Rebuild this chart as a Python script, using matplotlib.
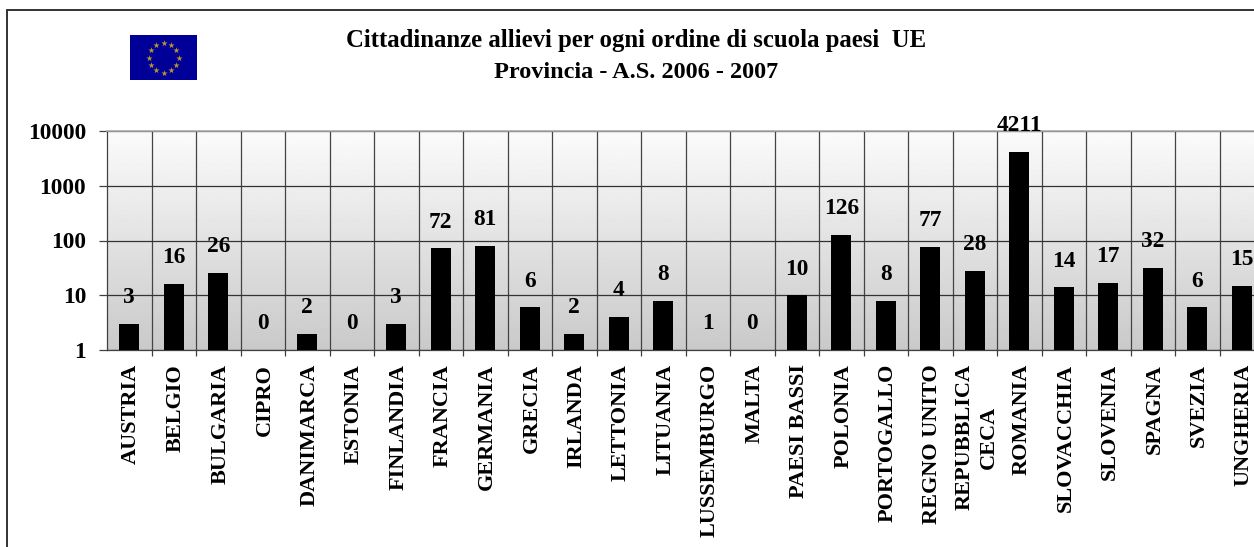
"""Cittadinanze allievi per paese UE, bar chart on a log axis."""
import matplotlib
matplotlib.use("Agg")
import matplotlib.pyplot as plt
from matplotlib.patches import Rectangle
from matplotlib.transforms import ScaledTranslation
import numpy as np

plt.rcParams.update({
    "font.family": ["Liberation Serif", "DejaVu Serif"],
    "font.weight": "bold",
})

W, H = 1254, 547

paesi = ["AUSTRIA", "BELGIO", "BULGARIA", "CIPRO", "DANIMARCA", "ESTONIA",
         "FINLANDIA", "FRANCIA", "GERMANIA", "GRECIA", "IRLANDA", "LETTONIA",
         "LITUANIA", "LUSSEMBURGO", "MALTA", "PAESI BASSI", "POLONIA",
         "PORTOGALLO", "REGNO UNITO", "REPUBBLICA\nCECA", "ROMANIA",
         "SLOVACCHIA", "SLOVENIA", "SPAGNA", "SVEZIA", "UNGHERIA"]
allievi = [3, 16, 26, 0, 2, 0, 3, 72, 81, 6, 2, 4, 8, 1, 0, 10, 126, 8, 77,
           28, 4211, 14, 17, 32, 6, 15]
y_ticks = [1, 10, 100, 1000, 10000]
y_labels = ["1", "10", "100", "1000", "10000"]


def px_box(x0, y0, x1, y1):
    """Figure fractions from pixel coords with y measured from the top."""
    return [x0 / W, 1 - y1 / H, (x1 - x0) / W, (y1 - y0) / H]


fig = plt.figure(figsize=(W / 100, H / 100), dpi=100, facecolor="white")

# outer frame of the chart object, runs off the right and bottom edge
fig.add_artist(Rectangle((7 / W, -0.1), 1.2, 1.1 - 10 / H, transform=fig.transFigure,
                         fill=False, edgecolor="#333333", linewidth=1.4))

# ── gradient behind the plot ──────────────────────────────────────────────────
pos = px_box(107, 131, 1264, 350)
bg = fig.add_axes(pos, zorder=0)
bg.imshow(np.linspace(0.985, 0.79, 256).reshape(-1, 1), cmap="gray", vmin=0, vmax=1,
          aspect="auto", interpolation="bilinear")
bg.axis("off")

# ── bars ──────────────────────────────────────────────────────────────────────
ax = fig.add_axes(pos, zorder=1)
ax.patch.set_visible(False)
x = np.arange(len(paesi))
ax.set_yscale("log")
ax.bar(x, allievi, width=0.45, color="black", zorder=3)
ax.set_xlim(-0.5, len(paesi) - 0.5)
ax.set_ylim(1, 10000)

for xi, v in zip(x, allievi):
    ax.annotate(str(v), (xi, max(v, 1)), xytext=(0, 18.8), textcoords="offset points",
                ha="center", va="center", fontsize=16.8, annotation_clip=False, zorder=4)

ax.set_yticks(y_ticks, y_labels, fontsize=16.8)
ax.minorticks_off()
ax.tick_params(axis="y", length=6, width=0.9, color="#404040", pad=9)
ax.set_xticks(x, paesi, rotation=90, fontsize=16, linespacing=1.3, va="top", ha="center")
ax.set_xticks(x[:-1] + 0.5, minor=True)
ax.tick_params(axis="x", which="major", length=0, pad=10)
ax.tick_params(axis="x", which="minor", length=4.5, width=0.9, color="#404040")
# rotated labels sit a touch right of the bar centre in the original
shift = ScaledTranslation(0.02, 0, fig.dpi_scale_trans)
for lab in ax.get_xticklabels():
    lab.set_transform(lab.get_transform() + shift)
ax.grid(True, axis="y", which="major", color="#333333", linewidth=0.9, zorder=1)
ax.grid(True, axis="x", which="minor", color="#444444", linewidth=0.9, zorder=1)
ax.set_axisbelow(True)
for side in ("right", "bottom", "left"):
    ax.spines[side].set_color("#404040")
    ax.spines[side].set_linewidth(0.9)
ax.spines["top"].set_color("#aaaaaa")
ax.spines["top"].set_linewidth(1.2)

# ── flag ──────────────────────────────────────────────────────────────────────
flag = fig.add_axes(px_box(130, 35, 197, 80), zorder=2)
flag.set_facecolor("#000099")
angles = np.deg2rad(np.arange(0, 360, 30))
flag.scatter(np.cos(angles) * 15, np.sin(angles) * 15, marker="*", s=22,
             color="#b8962e", linewidths=0)
flag.set_xlim(-33.5, 33.5)
flag.set_ylim(-22.5, 22.5)
flag.set_xticks([])
flag.set_yticks([])
for s in flag.spines.values():
    s.set_visible(False)

# ── title ─────────────────────────────────────────────────────────────────────
fig.text(636 / W, 1 - 40 / H, "Cittadinanze allievi per ogni ordine di scuola paesi  UE",
         ha="center", va="center", fontsize=17.8)
fig.text(636 / W, 1 - 72 / H, "Provincia - A.S. 2006 - 2007",
         ha="center", va="center", fontsize=17.5)

fig.savefig("out.png", dpi=100)
